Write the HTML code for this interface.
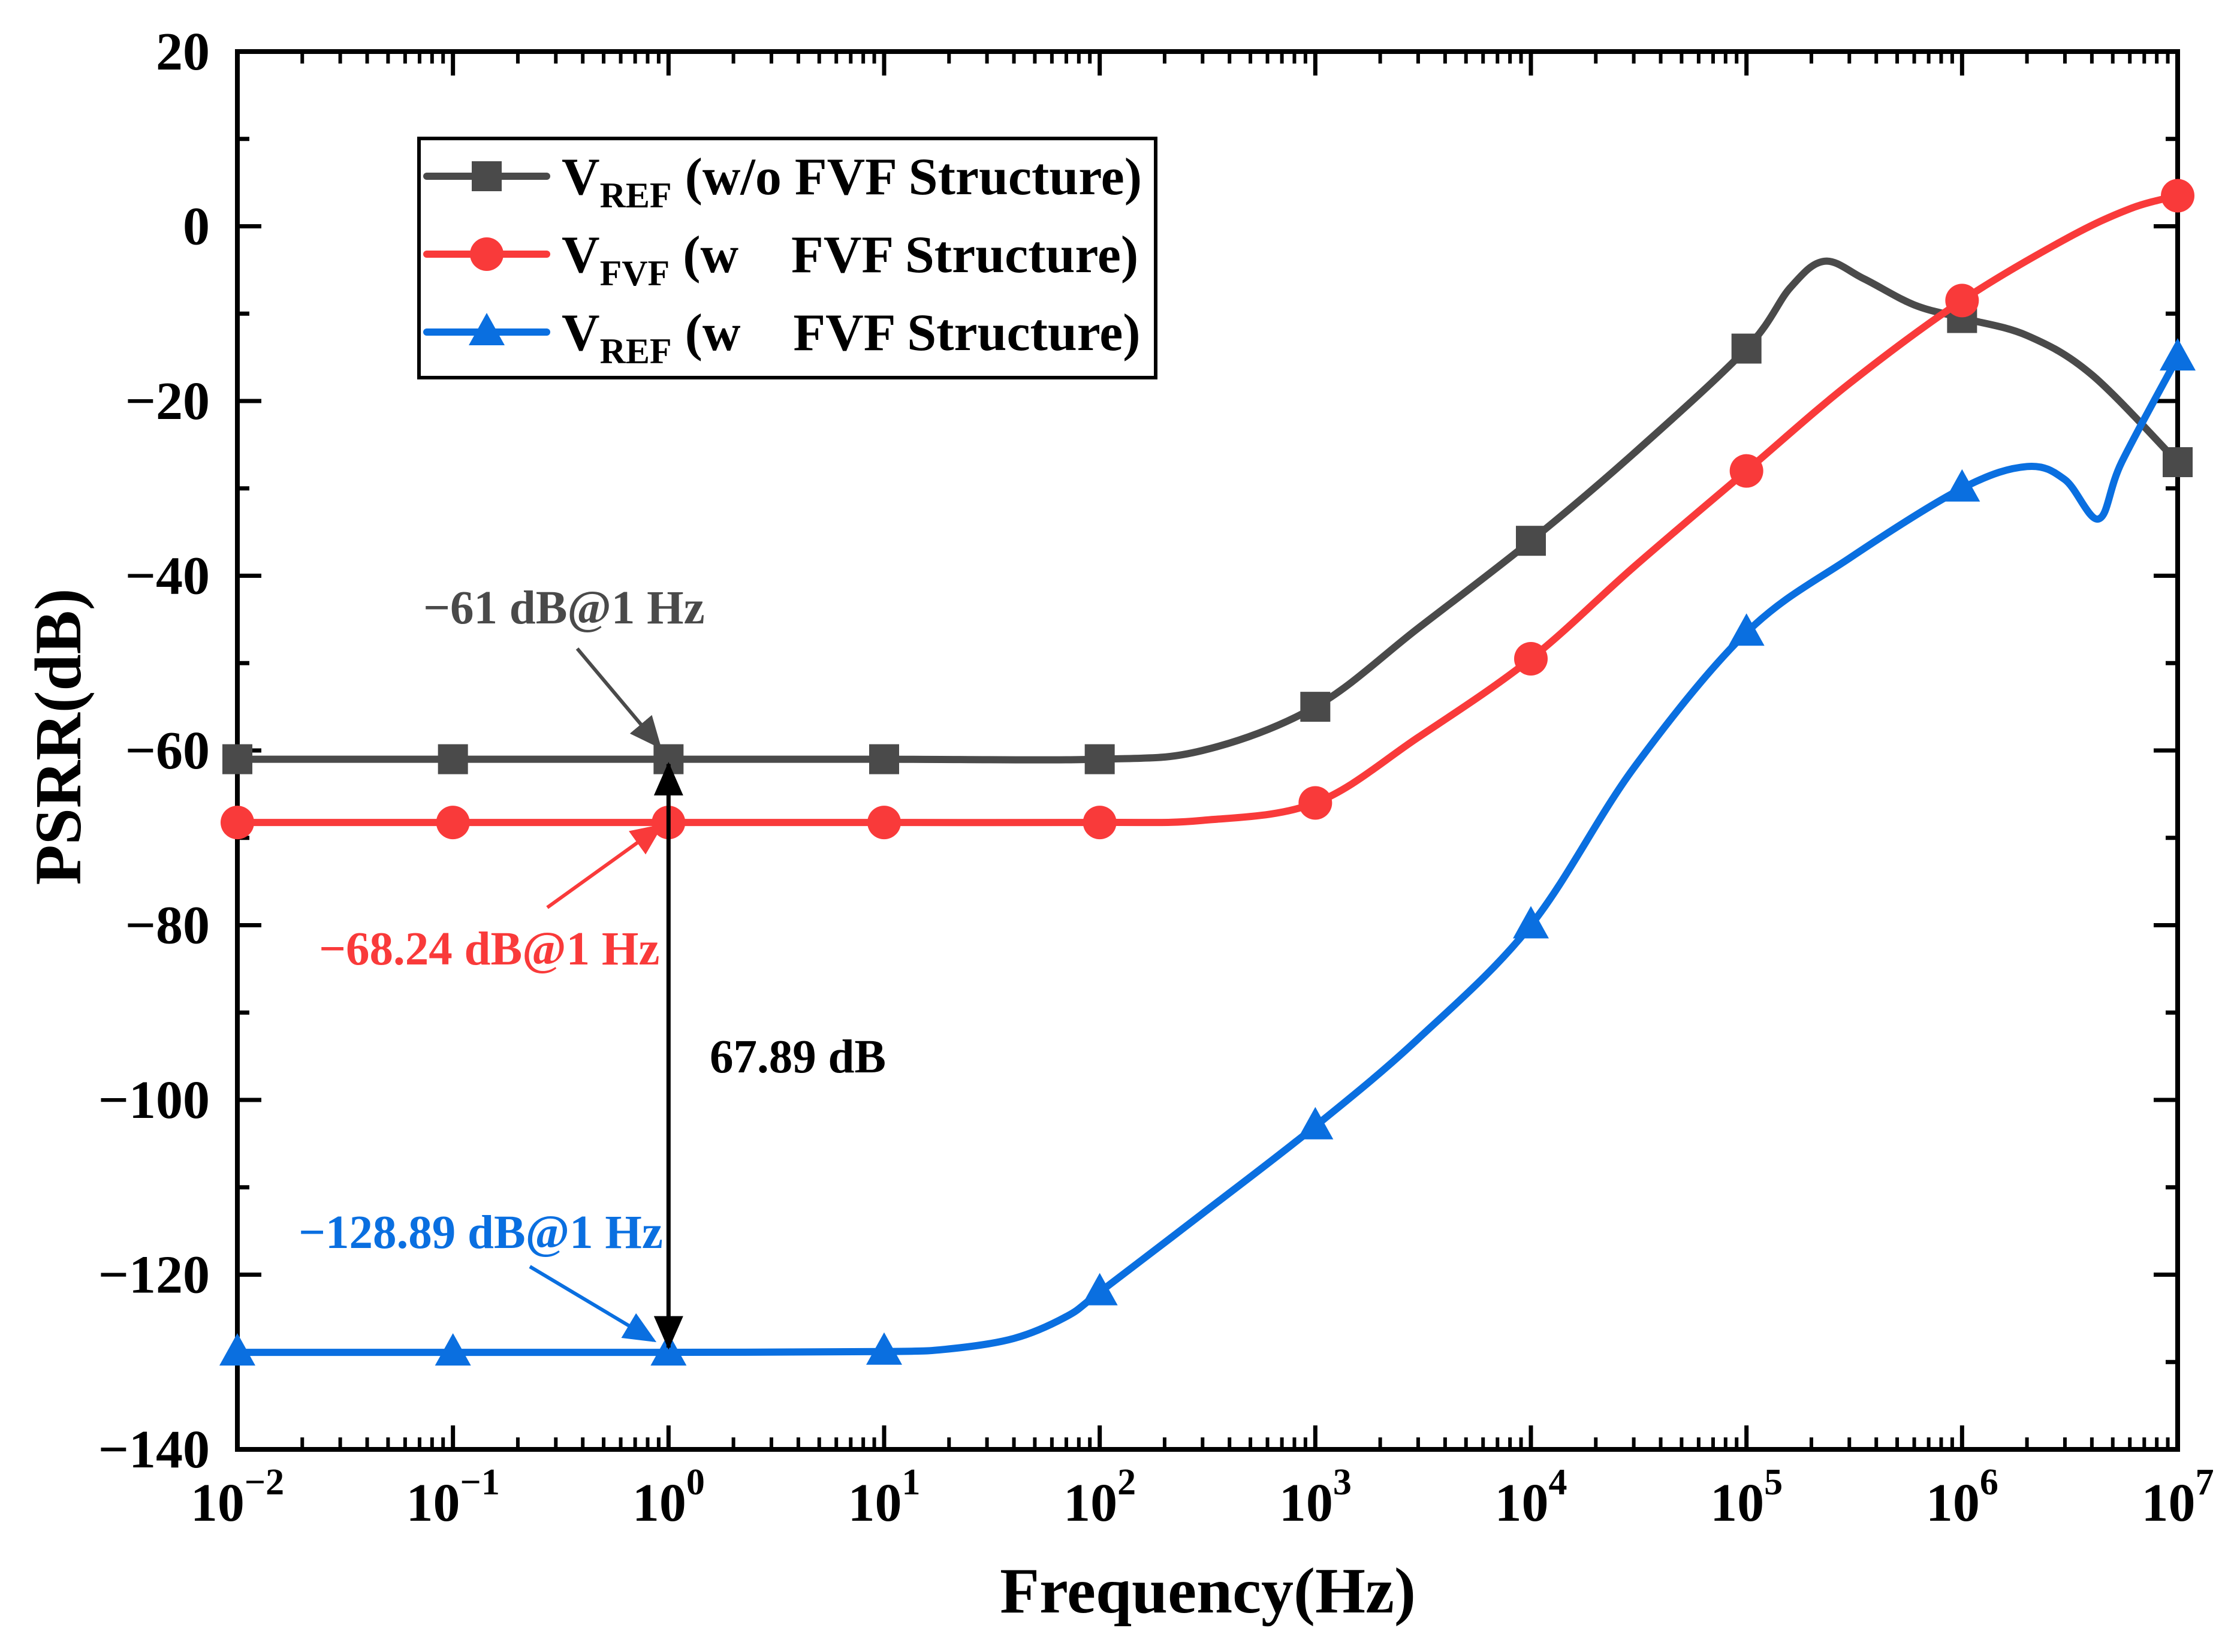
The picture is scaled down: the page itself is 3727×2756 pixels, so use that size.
<!DOCTYPE html>
<html><head><meta charset="utf-8"><style>
html,body{margin:0;padding:0;background:#fff;}
svg{display:block;}
text{font-family:"Liberation Serif",serif;font-weight:bold;}
</style></head><body>
<svg id="chart" xmlns="http://www.w3.org/2000/svg" width="3727" height="2756" viewBox="0 0 3727 2756">
<defs>
<marker id="ahG" markerWidth="9" markerHeight="8" refX="8" refY="4" orient="auto" markerUnits="strokeWidth"><path d="M0,0 L9,4 L0,8 Z" fill="#4a4a4a"/></marker>
<marker id="ahR" markerWidth="9" markerHeight="8" refX="8" refY="4" orient="auto" markerUnits="strokeWidth"><path d="M0,0 L9,4 L0,8 Z" fill="#f93a3a"/></marker>
<marker id="ahB" markerWidth="9" markerHeight="8" refX="8" refY="4" orient="auto" markerUnits="strokeWidth"><path d="M0,0 L9,4 L0,8 Z" fill="#0a6fe0"/></marker>
<marker id="ahK" markerWidth="8" markerHeight="7" refX="7.5" refY="3.5" orient="auto-start-reverse" markerUnits="strokeWidth"><path d="M0,0 L8,3.5 L0,7 Z" fill="#000"/></marker>
</defs>
<g id="plot"></g>
</svg>
<script>
// ---- data ----
const decadeExps = [-2,-1,0,1,2,3,4,5,6,7];
const yTicks = [20,0,-20,-40,-60,-80,-100,-120,-140];

const grayFreq = [0.01,0.1,1,10,100,300,1e3,3e3,1e4,3e4,1e5,1.6e5,2.3e5,3.5e5,6e5,1e6,2e6,4e6,1e7];
const grayVal  = [-61,-61,-61,-61,-61,-60,-55,-46,-36,-26,-14,-7,-4,-6,-9,-10.5,-12.5,-17,-27];
const grayMarkers = [-61,-61,-61,-61,-61,-55,-36,-14,-10.5,-27];

const redFreq = [0.01,0.1,1,10,100,300,1e3,3e3,1e4,3e4,1e5,3e5,1e6,3e6,6e6,1e7];
const redVal  = [-68.24,-68.24,-68.24,-68.24,-68.24,-68,-66,-58.5,-49.5,-39,-28,-18,-8.5,-1.5,2,3.5];
const redMarkers = [-68.24,-68.24,-68.24,-68.24,-68.24,-66,-49.5,-28,-8.5,3.5];

const blueFreq = [0.01,0.1,1,10,20,40,70,100,300,1e3,3e3,1e4,3e4,1e5,3e5,1e6,2e6,3e6,4.3e6,5.5e6,1e7];
const blueVal  = [-128.89,-128.89,-128.89,-128.8,-128.5,-127.3,-124.8,-122,-113,-103,-93,-80,-62,-46.5,-38,-30,-27.5,-29,-33.5,-27,-15];
const blueMarkers = [-128.89,-128.89,-128.89,-128.8,-122,-103,-80,-46.5,-30,-15];

// ---- layout ----
const L=396,R=3633,T=86,B=2418;
const xMin=-2,xMax=7,yMin=-140,yMax=20;
function xs(f){return L+(Math.log10(f)-xMin)/(xMax-xMin)*(R-L);}
function ys(v){return T+(yMax-v)/(yMax-yMin)*(B-T);}
const NS="http://www.w3.org/2000/svg";
const g=document.getElementById('plot');
function el(tag,attrs,parent){const e=document.createElementNS(NS,tag);for(const k in attrs)e.setAttribute(k,attrs[k]);(parent||g).appendChild(e);return e;}

// axis ticks
const ticksG=el('g',{});


for(let e=xMin;e<=xMax;e++){
  const x=xs(Math.pow(10,e));
  el('line',{x1:x,y1:B,x2:x,y2:B-40,stroke:'#000','stroke-width':7},ticksG);
  el('line',{x1:x,y1:T,x2:x,y2:T+40,stroke:'#000','stroke-width':7},ticksG);
  if(e<xMax){for(let m=2;m<=9;m++){const xm=xs(m*Math.pow(10,e));
    el('line',{x1:xm,y1:B,x2:xm,y2:B-20,stroke:'#000','stroke-width':6},ticksG);
    el('line',{x1:xm,y1:T,x2:xm,y2:T+20,stroke:'#000','stroke-width':6},ticksG);}}
}
for(let v=yMin;v<=yMax;v+=10){
  const y=ys(v),maj=(v%20===0),len=maj?40:20;
  el('line',{x1:L,y1:y,x2:L+len,y2:y,stroke:'#000','stroke-width':7},ticksG);
  el('line',{x1:R,y1:y,x2:R-len,y2:y,stroke:'#000','stroke-width':7},ticksG);
}
const frame=el('rect',{x:L,y:T,width:R-L,height:B-T,fill:'none',stroke:'#000','stroke-width':8});



// tick labels
yTicks.forEach(v=>{
  const t=el('text',{x:L-46,y:ys(v)+30,'text-anchor':'end','font-size':90});
  
  
  t.textContent=(v<0?'\u2212':'')+Math.abs(v);
});
decadeExps.forEach(e=>{
  const x=xs(Math.pow(10,e));
  const t=el('text',{x:x,y:2537,'text-anchor':'middle','font-size':90});
  
  
  t.textContent='10';
  const s=el('tspan',{dy:-44,'font-size':62},t);
  s.textContent=(e<0?'\u2212':'')+Math.abs(e);
});

// axis titles
const xt=el('text',{x:2015,y:2690,'text-anchor':'middle','font-size':108});


xt.textContent='Frequency(Hz)';
const yt=el('text',{x:0,y:0,'text-anchor':'middle','font-size':110,transform:'translate(134,1229) rotate(-90)'});


yt.textContent='PSRR(dB)';

function pathFrom(fr,vals){
  const p=fr.map((f,i)=>[xs(f),ys(vals[i])]);
  let d='M'+p[0][0]+','+p[0][1];
  for(let i=0;i<p.length-1;i++){
    const p0=p[i-1]||p[i],p1=p[i],p2=p[i+1],p3=p[i+2]||p2;
    const c1=[p1[0]+(p2[0]-p0[0])/6,p1[1]+(p2[1]-p0[1])/6];
    const c2=[p2[0]-(p3[0]-p1[0])/6,p2[1]-(p3[1]-p1[1])/6];
    d+=' C'+c1[0]+','+c1[1]+' '+c2[0]+','+c2[1]+' '+p2[0]+','+p2[1];
  }
  return d;
}
function marker(type,cx,cy,color,parent){
  let m;
  if(type==='square')m=el('rect',{x:cx-25,y:cy-25,width:50,height:50,fill:color},parent);
  else if(type==='circle')m=el('ellipse',{cx:cx,cy:cy,rx:28,ry:28,fill:color},parent);
  else m=el('polygon',{points:(cx)+','+(cy-32)+' '+(cx-30)+','+(cy+22)+' '+(cx+30)+','+(cy+22),fill:color},parent);
  return m;
}
const series=[
 {name:'gray',freq:grayFreq,val:grayVal,mk:grayMarkers,color:'#4a4a4a',type:'square'},
 {name:'red',freq:redFreq,val:redVal,mk:redMarkers,color:'#f93a3a',type:'circle'},
 {name:'blue',freq:blueFreq,val:blueVal,mk:blueMarkers,color:'#0a6fe0',type:'triangle'}
];
const clip=el('clipPath',{id:'pc'});el('rect',{x:L-30,y:T,width:R-L+60,height:B-T},clip);
series.forEach(s=>{
  const sg=el('g',{'clip-path':'url(#pc)'});
  
  
  const p=el('path',{d:pathFrom(s.freq,s.val),fill:'none',stroke:s.color,'stroke-width':12,'stroke-linejoin':'round'},sg);
  
  
  s.mk.forEach((v,i)=>{
    const m=marker(s.type,xs(Math.pow(10,decadeExps[i])),ys(v),s.color,sg);
    
    
  });
});

// legend
const lg=el('g',{});


el('rect',{x:699,y:231,width:1229,height:399,fill:'#fff',stroke:'#000','stroke-width':6},lg);
const legRows=[
 {y:294,color:'#4a4a4a',type:'square',sub:'REF',rest:' (w/o FVF Structure)'},
 {y:424,color:'#f93a3a',type:'circle',sub:'FVF',rest:' (w\u00a0\u00a0\u00a0\u00a0FVF Structure)'},
 {y:554,color:'#0a6fe0',type:'triangle',sub:'REF',rest:' (w\u00a0\u00a0\u00a0\u00a0FVF Structure)'}
];
legRows.forEach(r=>{
  const eg=el('g',{},lg);
  
  
  el('line',{x1:712,y1:r.y,x2:912,y2:r.y,stroke:r.color,'stroke-width':12,'stroke-linecap':'round'},eg);
  marker(r.type,812,r.y,r.color,eg);
  const t=el('text',{x:937,y:r.y+30,'font-size':88},eg);
  t.appendChild(document.createTextNode('V'));
  const sb=el('tspan',{dy:22,'font-size':60},t);sb.textContent=r.sub;
  const rs=el('tspan',{dy:-22},t);rs.textContent=r.rest;
});

// annotations
function ann(name,x,y,color,txt){
  const t=el('text',{x:x,y:y,fill:color,'font-size':79});
  
  
  t.textContent=txt;
}
ann('annotation-gray',706,1040,'#4a4a4a','\u221261 dB@1 Hz');
ann('annotation-red',532,1609,'#f93a3a','\u221268.24 dB@1 Hz');
ann('annotation-diff',1184,1789,'#000','67.89 dB');
ann('annotation-blue',498,2082,'#0a6fe0','\u2212128.89 dB@1 Hz');
function arrow(name,x1,y1,x2,y2,color,mid){
  const a=el('line',{x1:x1,y1:y1,x2:x2,y2:y2,stroke:color,'stroke-width':6,'marker-end':'url(#'+mid+')'});
  
  
  return a;
}
arrow('arrow-gray',963,1082,1100,1245,'#4a4a4a','ahG');
arrow('arrow-red',913,1514,1102,1378,'#f93a3a','ahR');
arrow('arrow-blue',884,2113,1090,2236,'#0a6fe0','ahB');
const x1Hz=xs(1);
const da=el('line',{x1:x1Hz,y1:ys(-61)+8,x2:x1Hz,y2:ys(-128.89)-8,stroke:'#000','stroke-width':7,'marker-end':'url(#ahK)','marker-start':'url(#ahK)'});


</script>
</body></html>
